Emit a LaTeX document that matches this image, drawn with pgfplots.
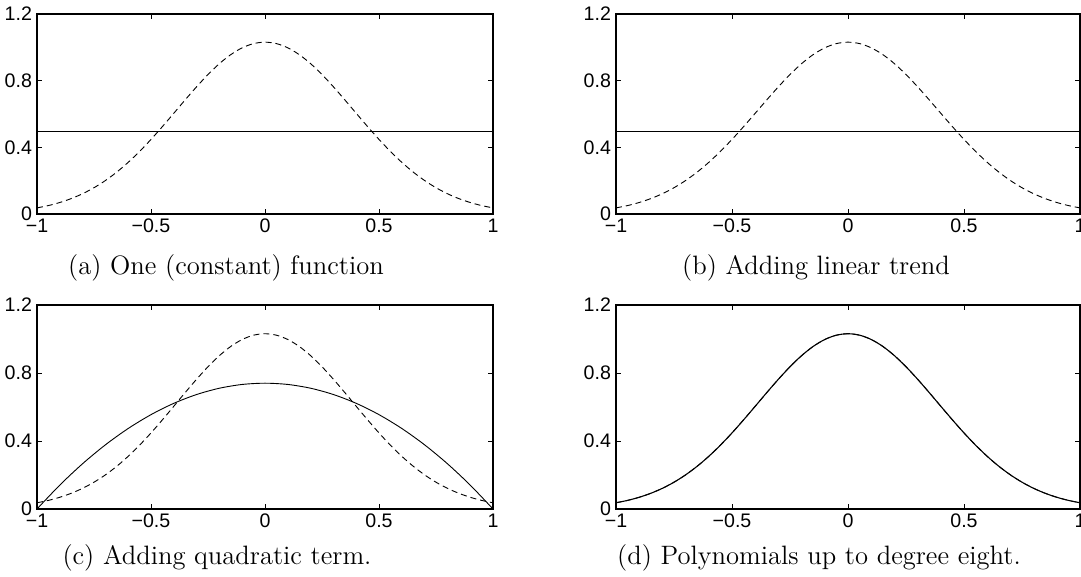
\documentclass[border=0pt]{standalone}
\usepackage{fontspec}
\usepackage{pgfplots}
\pgfplotsset{compat=1.18}
\newfontfamily\ticksf{Liberation Sans}
\begin{document}
\begin{tikzpicture}
\path[use as bounding box] (0pt,0pt) rectangle (540.5pt,288.5pt);
\pgfplotsset{
  mystyle/.style={
    scale only axis,
    anchor=south west,
    xmin=-1, xmax=1, ymin=0, ymax=1.2,
    xtick={-1,-0.5,0,0.5,1},
    xticklabels={−1,−0.5,0,0.5,1},
    ytick={0,0.4,0.8,1.2},
    yticklabels={0,0.4,0.8,1.2},
    tick align=inside,
    major tick length=2.5pt,
    tick style={black, line width=0.4pt},
    axis line style={line width=0.6pt},
    ticklabel style={font=\ticksf\fontsize{9.8}{10}\selectfont},
    xticklabel style={yshift=1pt},
    yticklabel style={xshift=1pt},
    clip=false,
  },
  gauss/.style={black, line width=0.45pt, smooth},
}
\def\gaussdata{
(-1.00,0.0366) (-0.95,0.0506) (-0.90,0.0690) (-0.85,0.0924) (-0.80,0.1217)
(-0.75,0.1576) (-0.70,0.2008) (-0.65,0.2515) (-0.60,0.3099) (-0.55,0.3755)
(-0.50,0.4474) (-0.45,0.5244) (-0.40,0.6043) (-0.35,0.6849) (-0.30,0.7633)
(-0.25,0.8368) (-0.20,0.9021) (-0.15,0.9564) (-0.10,0.9971) (-0.05,1.0224)
(0.00,1.0310) (0.05,1.0224) (0.10,0.9971) (0.15,0.9564) (0.20,0.9021)
(0.25,0.8368) (0.30,0.7633) (0.35,0.6849) (0.40,0.6043) (0.45,0.5244)
(0.50,0.4474) (0.55,0.3755) (0.60,0.3099) (0.65,0.2515) (0.70,0.2008)
(0.75,0.1576) (0.80,0.1217) (0.85,0.0924) (0.90,0.0690) (0.95,0.0506)
(1.00,0.0366)}
% (a)
\begin{axis}[mystyle, at={(18.5pt,181.5pt)}, width=228pt, height=100pt]
\addplot[gauss, dash pattern=on 3pt off 2pt] coordinates {\gaussdata};
\addplot[black, line width=0.45pt] coordinates {(-1,0.495) (1,0.495)};
\end{axis}
% (b)
\begin{axis}[mystyle, at={(308pt,181.5pt)}, width=232pt, height=100pt]
\addplot[gauss, dash pattern=on 3pt off 2pt] coordinates {\gaussdata};
\addplot[black, line width=0.45pt] coordinates {(-1,0.495) (1,0.495)};
\end{axis}
% (c)
\begin{axis}[mystyle, at={(18.5pt,34pt)}, width=228pt, height=102pt]
\addplot[gauss, dash pattern=on 3pt off 2pt] coordinates {\gaussdata};
\addplot[black, line width=0.45pt, smooth] coordinates {
(-1.0,0.0) (-0.9,0.1406) (-0.8,0.2664) (-0.7,0.3774) (-0.6,0.4736) (-0.5,0.5550)
(-0.4,0.6216) (-0.3,0.6734) (-0.2,0.7104) (-0.1,0.7326) (0.0,0.7400)
(0.1,0.7326) (0.2,0.7104) (0.3,0.6734) (0.4,0.6216) (0.5,0.5550)
(0.6,0.4736) (0.7,0.3774) (0.8,0.2664) (0.9,0.1406) (1.0,0.0)};
\end{axis}
% (d)
\begin{axis}[mystyle, at={(308pt,34pt)}, width=232pt, height=102pt]
\addplot[gauss, dash pattern=on 3pt off 2pt] coordinates {\gaussdata};
\addplot[gauss, line width=0.55pt] coordinates {\gaussdata};
\end{axis}
\node[font=\fontsize{13.3}{15}\selectfont] at (113pt,154.5pt) {(a) One (constant) function};
\node[font=\fontsize{13.3}{15}\selectfont] at (408pt,154.5pt) {(b) Adding linear trend};
\node[font=\fontsize{13.3}{15}\selectfont] at (108.5pt,9.5pt) {(c) Adding quadratic term.};
\node[font=\fontsize{13.3}{15}\selectfont] at (409.5pt,9.5pt) {(d) Polynomials up to degree eight.};
\end{tikzpicture}
\end{document}
